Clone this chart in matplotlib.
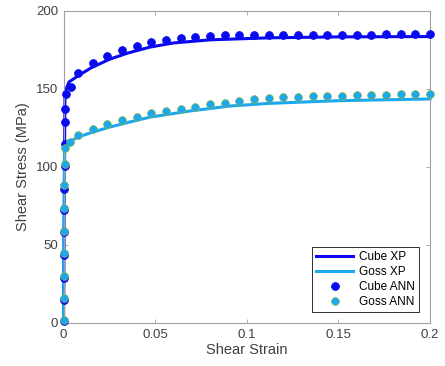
import matplotlib
matplotlib.use("Agg")
import matplotlib.pyplot as plt
import numpy as np

plt.rcParams['font.family'] = ['Liberation Sans', 'DejaVu Sans']

# Experimental curves (XP)
cube_xp_strain = [0.0, 0.0008, 0.003, 0.0087, 0.015, 0.025, 0.035, 0.047, 0.06, 0.08, 0.1126, 0.15, 0.2]
cube_xp_stress = [0.0, 148.0, 154.5, 159.0, 163.5, 169.0, 173.0, 176.8, 179.5, 181.5, 182.8, 183.4, 183.6]

goss_xp_strain = [0.0, 0.0006, 0.003, 0.008, 0.015, 0.025, 0.035, 0.047, 0.069, 0.091, 0.1126, 0.15, 0.2]
goss_xp_stress = [0.0, 112.0, 116.0, 119.2, 122.0, 125.5, 128.5, 131.9, 135.9, 139.1, 140.8, 142.5, 143.6]

# ANN predictions
cube_ann_strain = [0.0, 0.00008, 0.00016, 0.00024, 0.00032, 0.0004, 0.00048, 0.00056, 0.00064, 0.00072,
                   0.0008, 0.0015, 0.0042,
                   0.008, 0.016, 0.024, 0.032, 0.040, 0.048, 0.056, 0.064, 0.072, 0.080, 0.088, 0.096,
                   0.104, 0.112, 0.120, 0.128, 0.136, 0.144, 0.152, 0.160, 0.168, 0.176, 0.184, 0.192, 0.200]
cube_ann_stress = [1.0, 15.0, 29.0, 43.6, 58.5, 72.4, 86.0, 100.5, 115.0, 128.6,
                   137.0, 147.0, 151.2,
                   160.4, 166.4, 171.0, 174.8, 177.8, 180.1, 181.6, 182.8, 183.5, 184.0, 184.3, 184.5,
                   184.6, 184.7, 184.7, 184.8, 184.8, 184.8, 184.9, 184.9, 184.9, 185.0, 185.0, 185.0, 185.0]

goss_ann_strain = [0.0, 0.00008, 0.00016, 0.00024, 0.00032, 0.0004, 0.00048, 0.00056, 0.0006, 0.0035,
                   0.008, 0.016, 0.024, 0.032, 0.040, 0.048, 0.056, 0.064, 0.072, 0.080, 0.088, 0.096,
                   0.104, 0.112, 0.120, 0.128, 0.136, 0.144, 0.152, 0.160, 0.168, 0.176, 0.184, 0.192, 0.200]
goss_ann_stress = [2.0, 16.0, 30.0, 44.7, 59.0, 73.5, 88.5, 102.0, 112.4, 116.2,
                   120.2, 124.1, 127.3, 130.1, 132.3, 134.4, 136.0, 137.4, 138.7, 140.1, 141.3, 142.4,
                   143.4, 144.2, 144.7, 145.1, 145.3, 145.5, 145.7, 145.9, 146.1, 146.3, 146.5, 146.7, 147.0]

x_ticks = [0, 0.05, 0.1, 0.15, 0.2]
x_labels = ['0', '0.05', '0.1', '0.15', '0.2']
y_ticks = [0, 50, 100, 150, 200]

cube_col = '#0A0AF0'
goss_col = '#1AA8F0'
goss_edge = '#8AB43A'

fig = plt.figure(figsize=(4.45, 3.66), dpi=100)
ax = fig.add_axes([0.1427, 0.1175, 0.8236, 0.8525])

ax.plot(cube_xp_strain, cube_xp_stress, '-', color=cube_col, lw=2.2, label='Cube XP', zorder=2,
        clip_on=False)
ax.plot(goss_xp_strain, goss_xp_stress, '-', color=goss_col, lw=2.2, label='Goss XP', zorder=2,
        clip_on=False)
ax.plot(cube_ann_strain, cube_ann_stress, 'o', color=cube_col, ms=5.6, mec=cube_col, mew=0.6,
        label='Cube ANN', zorder=3, clip_on=False)
ax.plot(goss_ann_strain, goss_ann_stress, 'o', color=goss_col, ms=5.6, mec=goss_edge, mew=0.5,
        label='Goss ANN', zorder=4, clip_on=False)

ax.set_xlim(0, 0.2)
ax.set_ylim(0, 200)
ax.set_xticks(x_ticks)
ax.set_xticklabels(x_labels)
ax.set_yticks(y_ticks)

for s in ax.spines.values():
    s.set_color('#A0A0A0')
    s.set_linewidth(0.8)
ax.tick_params(direction='in', top=True, right=True, length=3, width=0.6, color='#A0A0A0',
               labelcolor='#404040', labelsize=9.5, pad=4)

ax.set_xlabel('Shear Strain', fontsize=10.5, color='#404040', labelpad=2)
ax.set_ylabel('Shear Stress (MPa)', fontsize=10.5, color='#404040', labelpad=4)

leg = ax.legend(loc='lower right', fontsize=8.5, frameon=True, fancybox=False,
                edgecolor='#303030', framealpha=1, handlelength=3.2, borderpad=0.35,
                labelspacing=0.25, handletextpad=0.5, borderaxespad=0.9)
leg.get_frame().set_linewidth(0.7)
leg.set_zorder(10)

fig.savefig('out.png', dpi=100)
